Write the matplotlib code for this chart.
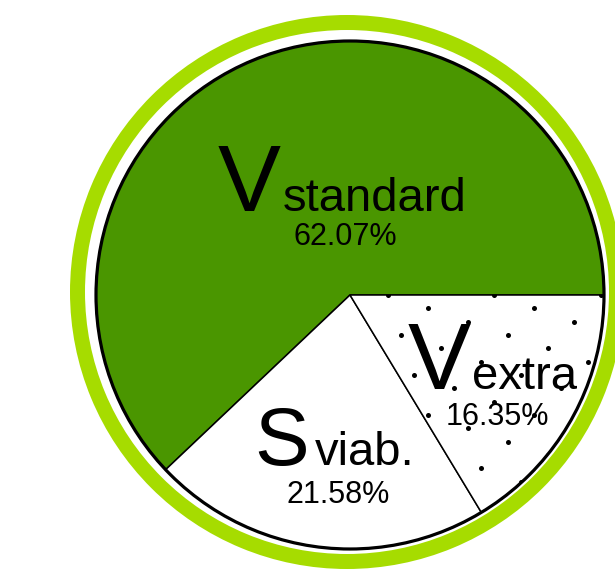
import numpy as np
import matplotlib
matplotlib.use('Agg')
import matplotlib.pyplot as plt
from matplotlib.patches import Circle, Wedge

plt.rcParams['font.family'] = ['Liberation Sans', 'DejaVu Sans']

# Data (slices go counter-clockwise from 3 o'clock)
big_letters = ['V', 'S', 'V']
sub_labels = ['standard', 'viab.', 'extra']
shares = [62.07, 21.58, 16.35]

# Styling
fill_colors = ['#4a9600', 'white', 'white']
ring_color = '#a6dc00'
big_sizes = [68, 59, 68]

W, H = 615, 579
cx, cy = 350, H - 295   # pie centre in pixel units (y measured from bottom)
R = 254

fig = plt.figure(figsize=(W / 100, H / 100), dpi=100)
ax = fig.add_axes([0, 0, 1, 1])

# outer light green ring
ax.add_patch(Wedge((347, H - 292), 277, 0, 360, width=15, color=ring_color, lw=0))

wedges, _ = ax.pie(shares, colors=fill_colors, startangle=0, counterclock=True,
                   center=(cx, cy), radius=R, frame=False,
                   wedgeprops=dict(edgecolor='black', linewidth=1.1))

# sparse dot texture on the "extra" slice
ii, jj = np.meshgrid(np.arange(-25, 26), np.arange(-25, 26))
px = 427.7 + ii * 40 + jj * 13.3
py = (H - 308.3) - ii * 13.3 - jj * 40
dots = ax.scatter(px.ravel(), py.ravel(), s=13, c='black', linewidths=0, zorder=3)
dots.set_clip_path(wedges[2])

# thick black rim
ax.add_patch(Circle((cx, cy), R, fill=False, ec='black', lw=2.3, zorder=4))

# label layout: (big letter x, sub label x, baseline y, percent centre x, percent baseline y)
layout = [
    (218, 282.5, 211, 345, 245),
    (254, 315, 465, 338, 503),
    (408, 471.5, 389, 497, 425),
]
for k, (bx, sx, by, pcx, pby) in enumerate(layout):
    ax.text(bx, H - by, big_letters[k], fontsize=big_sizes[k], ha='left',
            va='baseline', zorder=5)
    ax.text(sx, H - by, sub_labels[k], fontsize=34, ha='left',
            va='baseline', zorder=5)
    ax.text(pcx, H - pby, f'{shares[k]:.2f}%', fontsize=22, ha='center',
            va='baseline', zorder=5)

ax.set_xlim(0, W)
ax.set_ylim(0, H)
ax.set_aspect('auto')
ax.axis('off')

fig.savefig('out.png', dpi=100)
